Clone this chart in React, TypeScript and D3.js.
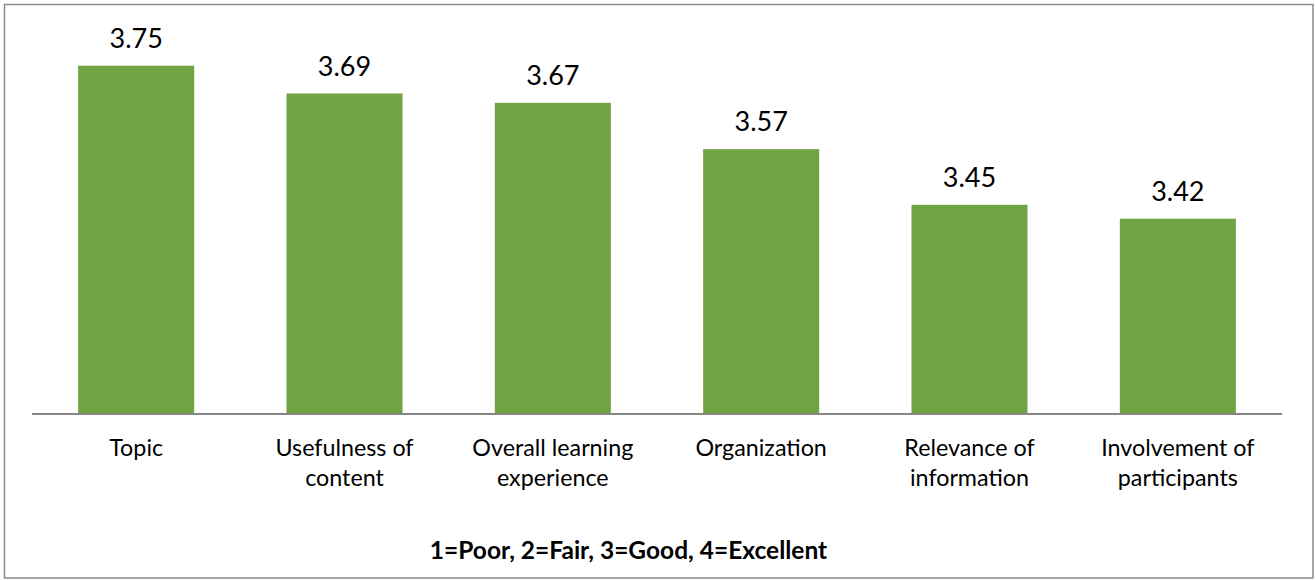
import React from "react";
import * as d3 from "d3";

const categories: string[][] = [
  ["Topic"],
  ["Usefulness of", "content"],
  ["Overall learning", "experience"],
  ["Organization"],
  ["Relevance of", "information"],
  ["Involvement of", "participants"],
];
const values: number[] = [3.75, 3.69, 3.67, 3.57, 3.45, 3.42];
const valueLabels: string[] = ["3.75", "3.69", "3.67", "3.57", "3.45", "3.42"];
const yDomain: [number, number] = [3.0, 3.8];
const footnote = "1=Poor, 2=Fair, 3=Good, 4=Excellent";

const W = 1315;
const H = 580;
const plotLeft = 32;
const plotRight = 1282;
const plotBottom = 413.5;
const plotTop = 42.5;
const GREEN = "#70a442";
const FONT = "Lato, 'Open Sans', sans-serif";

export default function App() {
  const keys = categories.map((_, i) => String(i));
  const x = d3
    .scaleBand<string>()
    .domain(keys)
    .range([plotLeft, plotRight])
    .paddingInner(0.443)
    .paddingOuter(0.2215);
  const y = d3.scaleLinear().domain(yDomain).range([plotBottom, plotTop]);

  return (
    <svg
      width={W}
      height={H}
      style={{ position: "absolute", left: 0, top: 0, background: "#fff" }}
      fontFamily={FONT}
    >
      <rect x={4.5} y={4.5} width={1308.5} height={573.5} fill="#fff" stroke="#8a8a8a" strokeWidth={1.5} />
      {values.map((v, i) => {
        const bx = x(keys[i]) as number;
        return (
          <g key={i}>
            <rect x={bx} y={y(v)} width={x.bandwidth()} height={plotBottom - y(v)} fill={GREEN} />
            <text
              x={bx + x.bandwidth() / 2}
              y={y(v) - 18}
              textAnchor="middle"
              fontSize={27}
              fill="#000"
            >
              {valueLabels[i]}
            </text>
            {categories[i].map((line, j) => (
              <text
                key={j}
                x={bx + x.bandwidth() / 2}
                y={456 + j * 30}
                textAnchor="middle"
                fontSize={23.3}
                fill="#000"
              >
                {line}
              </text>
            ))}
          </g>
        );
      })}
      <line x1={plotLeft} x2={plotRight} y1={414} y2={414} stroke="#868686" strokeWidth={2} />
      <text x={628.5} y={559} textAnchor="middle" fontSize={24.5} fontWeight="bold" fill="#000">
        {footnote}
      </text>
    </svg>
  );
}
